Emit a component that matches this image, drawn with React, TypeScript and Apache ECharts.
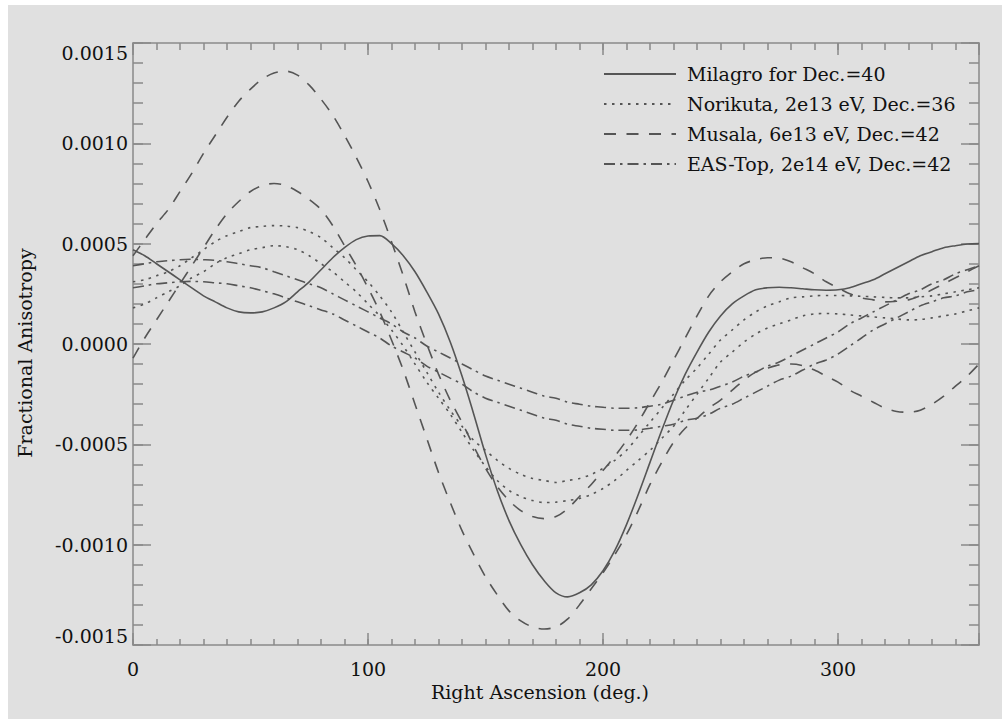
import React, { useEffect, useRef } from 'react';
import * as echarts from 'echarts';

// Right ascension sample positions (degrees), every 5 degrees
const raDeg = [
  0, 5, 10, 15, 20, 25, 30, 35, 40, 45, 50, 55, 60, 65, 70, 75, 80, 85, 90, 95,
  100, 105, 110, 115, 120, 125, 130, 135, 140, 145, 150, 155, 160, 165, 170, 175, 180, 185, 190, 195,
  200, 205, 210, 215, 220, 225, 230, 235, 240, 245, 250, 255, 260, 265, 270, 275, 280, 285, 290, 295,
  300, 305, 310, 315, 320, 325, 330, 335, 340, 345, 350, 355, 360,
];

const milagro = [
  0.00047, 0.00044, 0.0004, 0.00036, 0.00032, 0.00028, 0.00024, 0.00021, 0.00018, 0.00016,
  0.000155, 0.00016, 0.00018, 0.00021, 0.00026, 0.00031, 0.00037, 0.00043, 0.00048, 0.00052,
  0.000538, 0.00054, 0.0005, 0.00044, 0.00036, 0.00026, 0.00015, 0.00001, -0.00016, -0.00035,
  -0.00055, -0.00073, -0.00088, -0.001, -0.0011, -0.00118, -0.00124, -0.00126, -0.00124, -0.0012,
  -0.00113, -0.00103, -0.0009, -0.00075, -0.00059, -0.00043, -0.00028, -0.00015, -0.00004, 0.00006,
  0.00014, 0.0002, 0.00024, 0.00027, 0.00028, 0.000283, 0.00028, 0.000275, 0.00027, 0.000268,
  0.00027, 0.00028, 0.0003, 0.00032, 0.00035, 0.00038, 0.00041, 0.00044, 0.00046, 0.00048,
  0.00049, 0.000498, 0.0005,
];

const norikutaA = [
  0.00031, 0.00032, 0.00034, 0.00036, 0.00039, 0.00043, 0.00047, 0.00051, 0.00054, 0.00056,
  0.00058, 0.000586, 0.00059, 0.000588, 0.00058, 0.00056, 0.00053, 0.00048, 0.00043, 0.00037,
  0.00031, 0.00024, 0.00016, 0.00006, -0.00004, -0.00014, -0.00024, -0.00033, -0.00041, -0.00048,
  -0.00053, -0.00058, -0.00062, -0.00065, -0.00067, -0.00068, -0.00069, -0.00068, -0.00067, -0.00065,
  -0.00062, -0.00058, -0.00053, -0.00046, -0.00039, -0.00032, -0.00025, -0.00018, -0.00012, -0.00005,
  0.00002, 0.00007, 0.00012, 0.00016, 0.00019, 0.00021, 0.00023, 0.000235, 0.00024, 0.000242,
  0.000242, 0.00024, 0.000238, 0.000235, 0.000232, 0.00023, 0.00023, 0.000235, 0.00024, 0.00025,
  0.00026, 0.00027, 0.00028,
];

const norikutaB = [
  0.00018, 0.0002, 0.00023, 0.00026, 0.00029, 0.00033, 0.00036, 0.0004, 0.00043, 0.00045,
  0.00047, 0.00048, 0.00049, 0.000485, 0.00047, 0.00044, 0.0004, 0.00036, 0.00031, 0.00026,
  0.0002, 0.00014, 0.00007, -0.00001, -0.0001, -0.00019, -0.00027, -0.00035, -0.00044, -0.00053,
  -0.00061, -0.00068, -0.00073, -0.00076, -0.00078, -0.00079, -0.000788, -0.00078, -0.00077, -0.00075,
  -0.00072, -0.00068, -0.00063, -0.00058, -0.00053, -0.00047, -0.00041, -0.00033, -0.00025, -0.00017,
  -0.00009, -0.00004, 0.00001, 0.00005, 0.00008, 0.0001, 0.00012, 0.00014, 0.00015, 0.000152,
  0.00015, 0.000145, 0.00014, 0.000135, 0.00013, 0.000125, 0.00012, 0.000122, 0.00013, 0.00014,
  0.00015, 0.000165, 0.00018,
];

const musalaA = [
  0.00044, 0.00052, 0.0006, 0.00067, 0.00076, 0.00085, 0.00095, 0.00104, 0.00113, 0.00121,
  0.00127, 0.00132, 0.00135, 0.00136, 0.00134, 0.00129, 0.00122, 0.00114, 0.00104, 0.00093,
  0.00081, 0.00067, 0.00051, 0.00034, 0.00016, 0.0, -0.00015, -0.00028, -0.00039, -0.00051,
  -0.00062, -0.00071, -0.00078, -0.00083, -0.00086, -0.00087, -0.00086, -0.00082, -0.00076, -0.0007,
  -0.00063, -0.00056, -0.00048, -0.00039, -0.00029, -0.00019, -0.00008, 0.00003, 0.00014, 0.00024,
  0.00031, 0.00036, 0.0004, 0.00042, 0.00043, 0.000428, 0.00041, 0.00038, 0.00035, 0.00031,
  0.00028, 0.00025, 0.00023, 0.00022, 0.00021, 0.000213, 0.00022, 0.00024, 0.00027, 0.0003,
  0.00033, 0.00036, 0.00039,
];

const musalaB = [
  -0.00007, 0.00003, 0.00012, 0.00021, 0.0003, 0.00039, 0.00048, 0.00057, 0.00065, 0.00071,
  0.00076, 0.00079, 0.0008, 0.00079, 0.00076, 0.00072, 0.00067, 0.00059, 0.00049, 0.00039,
  0.00028, 0.00016, 0.00002, -0.00013, -0.0003, -0.00047, -0.00064, -0.00079, -0.00093, -0.00105,
  -0.00116, -0.00125, -0.00133, -0.00138, -0.00141, -0.00142, -0.00141, -0.00137, -0.0013, -0.00122,
  -0.00114, -0.00105, -0.00095, -0.00083, -0.0007, -0.00059, -0.00049, -0.00042, -0.00037, -0.00032,
  -0.00028, -0.00023, -0.00018, -0.00014, -0.00012, -0.000104, -0.0001, -0.000108, -0.00013, -0.00016,
  -0.00019, -0.00023, -0.00026, -0.00029, -0.00032, -0.000336, -0.00034, -0.00033, -0.0003, -0.00026,
  -0.00021, -0.00016, -0.0001,
];

const easTopA = [
  0.00039, 0.0004, 0.00041, 0.000415, 0.00042, 0.000422, 0.00042, 0.000417, 0.00041, 0.0004,
  0.00039, 0.00038, 0.00036, 0.00034, 0.00032, 0.0003, 0.00028, 0.00025, 0.00022, 0.00019,
  0.00016, 0.00013, 0.0001, 0.00006, 0.00003, -0.00001, -0.00004, -0.00007, -0.0001, -0.00013,
  -0.00016, -0.00018, -0.0002, -0.00022, -0.00024, -0.00026, -0.00027, -0.00029, -0.0003, -0.00031,
  -0.000315, -0.00032, -0.00032, -0.000318, -0.00031, -0.0003, -0.00028, -0.00026, -0.00024, -0.00023,
  -0.00021, -0.00019, -0.00016, -0.00014, -0.00011, -0.00009, -0.00006, -0.00003, 0.0, 0.00003,
  0.00006, 0.0001, 0.00013, 0.00016, 0.00019, 0.00022, 0.00025, 0.00027, 0.0003, 0.00032,
  0.00035, 0.00037, 0.00039,
];

const easTopB = [
  0.00028, 0.00029, 0.0003, 0.000305, 0.00031, 0.000312, 0.00031, 0.000305, 0.0003, 0.00029,
  0.00028, 0.000265, 0.00025, 0.00023, 0.00021, 0.00019, 0.00017, 0.00015, 0.00012, 0.00009,
  0.00006, 0.00003, -0.00001, -0.00004, -0.00007, -0.00011, -0.00014, -0.00017, -0.0002, -0.00024,
  -0.00027, -0.00029, -0.00031, -0.00033, -0.00035, -0.00037, -0.00038, -0.0004, -0.00041, -0.00042,
  -0.000425, -0.00043, -0.00043, -0.000428, -0.00042, -0.00041, -0.0004, -0.00038, -0.00037, -0.00035,
  -0.00032, -0.0003, -0.00027, -0.00024, -0.00021, -0.00018, -0.00016, -0.00013, -0.0001, -0.00008,
  -0.00005, -0.00001, 0.00003, 0.00007, 0.0001, 0.00013, 0.00016, 0.00019, 0.00021, 0.00023,
  0.00024, 0.00026, 0.00027,
];

const legendNames = [
  'Milagro for Dec.=40',
  'Norikuta, 2e13 eV, Dec.=36',
  'Musala, 6e13 eV, Dec.=42',
  'EAS-Top, 2e14 eV, Dec.=42',
];

const xTickLabels = ['0', '100', '200', '300'];
const yTickLabels = ['-0.0015', '-0.0010', '-0.0005', '0.0000', '0.0005', '0.0010', '0.0015'];

const FONT = '"DejaVu Serif", serif';
const AXIS_COLOR = '#8a8a8a';
const LINE_COLOR = '#555555';
const TEXT_COLOR = '#111111';

const SOLID = 'solid';
const DOTTED = [2.5, 5.5];
const DASHED = [12, 10.5];
const DASHDOT = [11, 5, 2.5, 5];

function makeSeries(name: string, values: number[], type: any) {
  return {
    type: 'line',
    name,
    data: raDeg.map((x, i) => [x, values[i]]),
    smooth: 0.3,
    symbol: 'none',
    showSymbol: false,
    color: LINE_COLOR,
    itemStyle: { color: LINE_COLOR },
    lineStyle: { color: LINE_COLOR, width: 1.6, type },
    emphasis: { disabled: true },
    silent: true,
    z: 3,
  };
}

const xFormatter = (v: number) => {
  const s = String(Math.round(v));
  return xTickLabels.includes(s) ? s : '';
};
const yFormatter = (v: number) => {
  const s = Math.abs(v) < 1e-12 ? '0.0000' : v.toFixed(4);
  return yTickLabels.includes(s) ? s : '';
};

const axisLineOn = { show: true, onZero: false, lineStyle: { color: AXIS_COLOR, width: 1.5 } };
const axisLineOff = { show: false, onZero: false };
const tick = (len: number) => ({ show: true, inside: true, length: len, lineStyle: { color: AXIS_COLOR, width: 1.5 } });
const noLabel = { show: false };
const noSplit = { show: false };

const xBase = { type: 'value', min: 0, max: 360, splitLine: noSplit };
const yBase = { type: 'value', min: -0.0015, max: 0.0015, splitLine: noSplit };

const option: any = {
  animation: false,
  backgroundColor: '#e0e0e0',
  grid: { left: 125, top: 38, width: 846, height: 602, containLabel: false, outerBoundsMode: 'none' },
  legend: {
    orient: 'vertical',
    left: 590,
    top: 49,
    itemWidth: 72,
    itemHeight: 14,
    itemGap: 0,
    data: legendNames,
    selectedMode: false,
    itemStyle: { color: 'rgba(0,0,0,0)', borderWidth: 0, borderColor: 'rgba(0,0,0,0)' },
    textStyle: {
      fontFamily: FONT,
      fontSize: 19,
      color: TEXT_COLOR,
      lineHeight: 18,
      padding: [0, 0, 12, 6],
    },
  },
  xAxis: [
    {
      ...xBase,
      position: 'bottom',
      interval: 100,
      axisLine: axisLineOn,
      axisTick: tick(12),
      axisLabel: { show: true, margin: 14, fontFamily: FONT, fontSize: 19, color: TEXT_COLOR, formatter: xFormatter },
      name: 'Right Ascension (deg.)',
      nameLocation: 'middle',
      nameGap: 36,
      nameTextStyle: { fontFamily: FONT, fontSize: 19, color: TEXT_COLOR, padding: [0, 32, 0, 0] },
    },
    { ...xBase, position: 'bottom', interval: 10, axisLine: axisLineOff, axisTick: tick(6), axisLabel: noLabel },
    { ...xBase, position: 'top', interval: 100, axisLine: axisLineOn, axisTick: tick(12), axisLabel: noLabel },
    { ...xBase, position: 'top', interval: 10, axisLine: axisLineOff, axisTick: tick(7), axisLabel: noLabel },
  ],
  yAxis: [
    {
      ...yBase,
      position: 'left',
      interval: 0.0005,
      axisLine: axisLineOn,
      axisTick: tick(18),
      axisLabel: {
        show: true,
        margin: 5,
        fontFamily: FONT,
        fontSize: 19,
        color: TEXT_COLOR,
        formatter: yFormatter,
        verticalAlignMinLabel: 'bottom',
        verticalAlignMaxLabel: 'top',
      },
      name: 'Fractional Anisotropy',
      nameLocation: 'middle',
      nameGap: 99,
      nameTextStyle: { fontFamily: FONT, fontSize: 19, color: TEXT_COLOR, padding: [0, 18, 0, 0] },
    },
    { ...yBase, position: 'left', interval: 0.0001, axisLine: axisLineOff, axisTick: tick(10), axisLabel: noLabel },
    { ...yBase, position: 'right', interval: 0.0005, axisLine: axisLineOn, axisTick: tick(18), axisLabel: noLabel },
    { ...yBase, position: 'right', interval: 0.0001, axisLine: axisLineOff, axisTick: tick(10), axisLabel: noLabel },
  ],
  series: [
    makeSeries(legendNames[0], milagro, SOLID),
    makeSeries(legendNames[1], norikutaA, DOTTED),
    makeSeries(legendNames[1], norikutaB, DOTTED),
    makeSeries(legendNames[2], musalaA, DASHED),
    makeSeries(legendNames[2], musalaB, DASHED),
    makeSeries(legendNames[3], easTopA, DASHDOT),
    makeSeries(legendNames[3], easTopB, DASHDOT),
  ],
};

export default function App() {
  const ref = useRef<HTMLDivElement>(null);
  useEffect(() => {
    if (!ref.current) return;
    const chart = echarts.init(ref.current, null, { renderer: 'svg' });
    chart.setOption(option);
    return () => chart.dispose();
  }, []);
  return (
    <div
      ref={ref}
      style={{ position: 'absolute', left: 8, top: 5, width: 994, height: 714 }}
    />
  );
}
